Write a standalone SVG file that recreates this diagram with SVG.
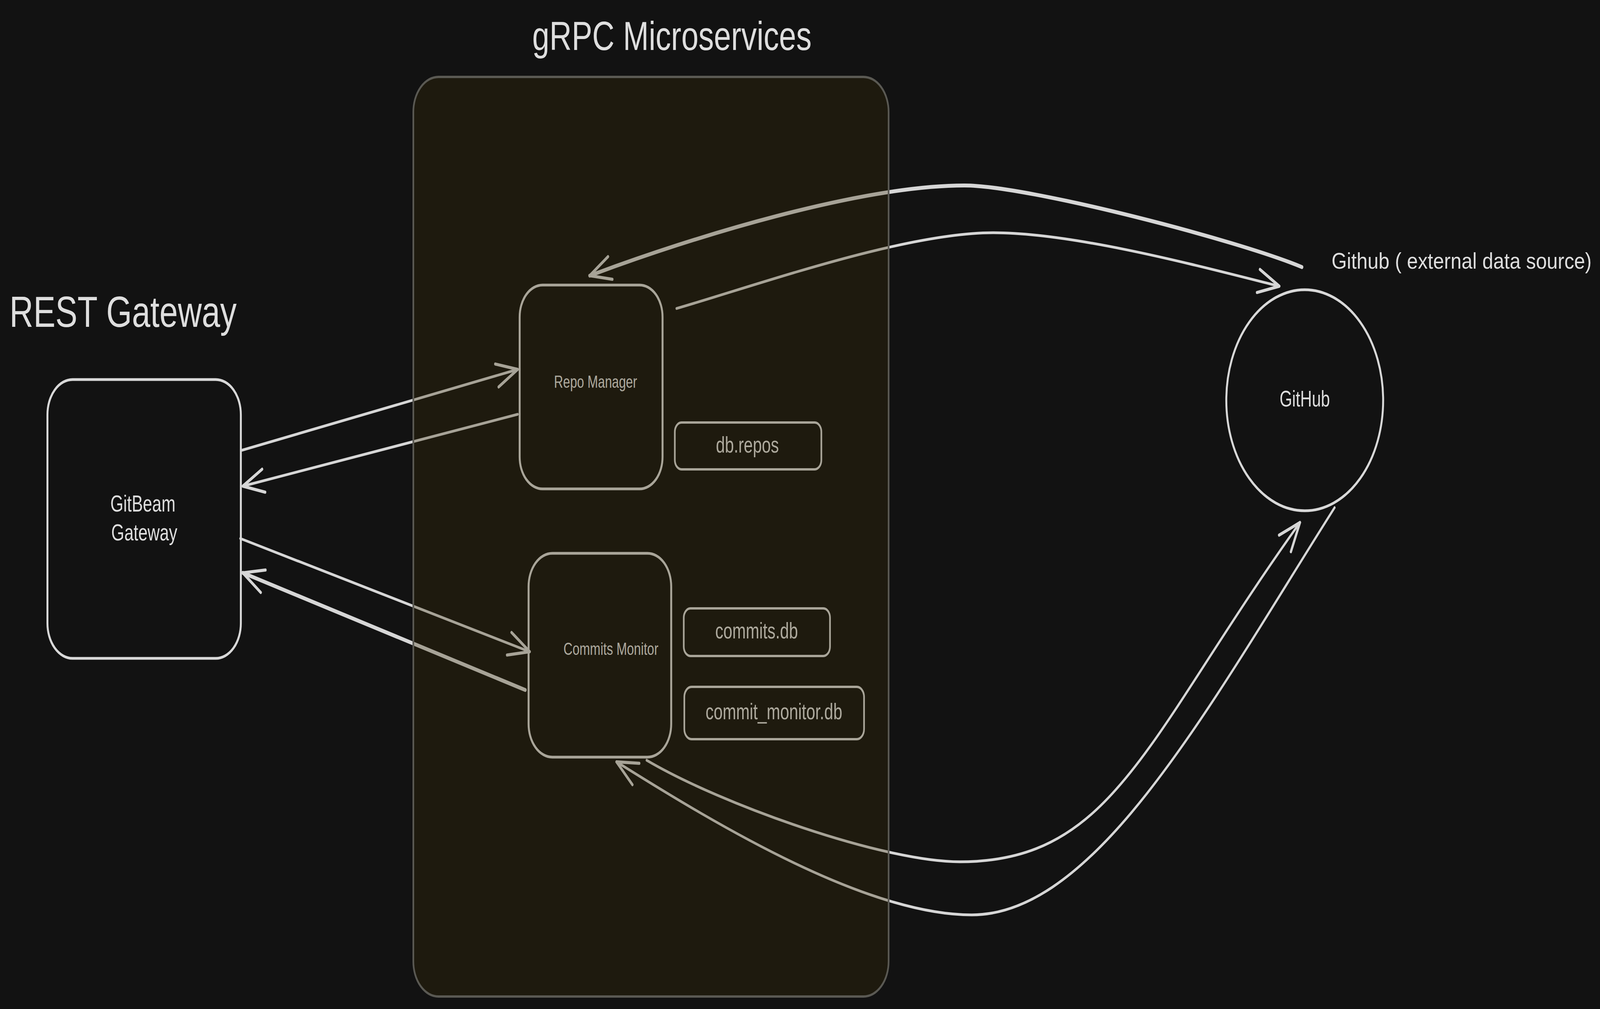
<svg xmlns="http://www.w3.org/2000/svg" width="5733" height="2584" viewBox="0 0 5733 2584" preserveAspectRatio="none">
<style>
svg:root{width:100vw;height:100vh;display:block}
.bg{fill:#121212}
.shape{fill:none;stroke:#d8d8d8;stroke-width:7;stroke-linejoin:round}
.db{fill:none;stroke:#d8d8d8;stroke-width:6}
.t{font-family:"Liberation Sans","DejaVu Sans",sans-serif;fill:#dedede}
.c{text-anchor:middle}
.conn{fill:none;stroke:#d6d6d6;stroke-width:7;stroke-linecap:round}
.thick{stroke-width:10}
.overlay{fill:#3a2d08;fill-opacity:0.3;stroke:#5a5953;stroke-width:6}
</style>
<defs>
<marker id="ah" viewBox="-100 -50 110 100" refX="0" refY="0" markerWidth="110" markerHeight="100" markerUnits="userSpaceOnUse" orient="auto" overflow="visible">
<path d="M -76 -30 L 0 0 L -76 30" fill="none" stroke="#d6d6d6" stroke-width="8" stroke-linecap="round" stroke-linejoin="round"/>
</marker>
</defs>
<rect class="bg" x="0" y="0" width="5733" height="2584"/>

<g id="rest-gateway-title">
<text class="t" x="34" y="837" font-size="112" textLength="814" lengthAdjust="spacingAndGlyphs">REST Gateway</text>
</g>

<g id="gitbeam-gateway">
<rect class="shape" x="170" y="972" width="693" height="714" rx="90" ry="90"/>
<text class="t c" x="512" y="1310" font-size="60">GitBeam</text>
<text class="t c" x="517" y="1384" font-size="60">Gateway</text>
</g>

<g id="repo-manager">
<rect class="shape" x="1862" y="730" width="512" height="522" rx="82" ry="82"/>
<text class="t c" x="2134" y="993" font-size="45">Repo Manager</text>
</g>

<g id="db-repos">
<rect class="db" x="2418" y="1082" width="525" height="120" rx="24" ry="24"/>
<text class="t c" x="2678" y="1159" font-size="58">db.repos</text>
</g>

<g id="commits-monitor">
<rect class="shape" x="1894" y="1417" width="511" height="522" rx="85" ry="85"/>
<text class="t c" x="2189" y="1677" font-size="45">Commits Monitor</text>
</g>

<g id="commits-db">
<rect class="db" x="2450" y="1558" width="524" height="122" rx="24" ry="24"/>
<text class="t c" x="2711" y="1635" font-size="58">commits.db</text>
</g>

<g id="commit-monitor-db">
<rect class="db" x="2452" y="1759" width="644" height="134" rx="26" ry="26"/>
<text class="t c" x="2773" y="1842" font-size="58">commit_monitor.db</text>
</g>

<g id="github">
<ellipse class="shape" cx="4675" cy="1025" rx="281" ry="283"/>
<text class="t c" x="4675" y="1041" font-size="58">GitHub</text>
</g>

<g id="github-label">
<text class="t" x="4771" y="688" font-size="58" textLength="932" lengthAdjust="spacingAndGlyphs">Github ( external data source)</text>
</g>

<g id="connectors">
<path class="conn" d="M 867 1153 L 1855 946" marker-end="url(#ah)"/>
<path class="conn" d="M 1855 1061 L 870 1245" marker-end="url(#ah)"/>
<path class="conn" d="M 861 1379 L 1898 1669" marker-end="url(#ah)"/>
<path class="conn thick" d="M 1882 1767 L 870 1467" marker-end="url(#ah)"/>
<path class="conn" d="M 2424 790 C 2740 724 3244 596 3560 596 C 3849 596 4295 681 4584 733" marker-end="url(#ah)"/>
<path class="conn thick" d="M 4665 684 C 4438 616 3683 475 3456 475 C 3085 475 2484 606 2113 706" marker-end="url(#ah)"/>
<path class="conn" d="M 2317 1947 C 2590 2062 3166 2207 3439 2207 C 3992 2207 4105 1891 4658 1338" marker-end="url(#ah)"/>
<path class="conn" d="M 4782 1300 C 4333 1807 3931 2343 3482 2343 C 3109 2343 2582 2119 2209 1951" marker-end="url(#ah)"/>
</g>

<g id="grpc-microservices">
<rect class="overlay" x="1481" y="197" width="1703" height="2355" rx="90" ry="90"/>
<text class="t" x="1907" y="128" font-size="104" textLength="1001" lengthAdjust="spacingAndGlyphs">gRPC Microservices</text>
</g>
</svg>
